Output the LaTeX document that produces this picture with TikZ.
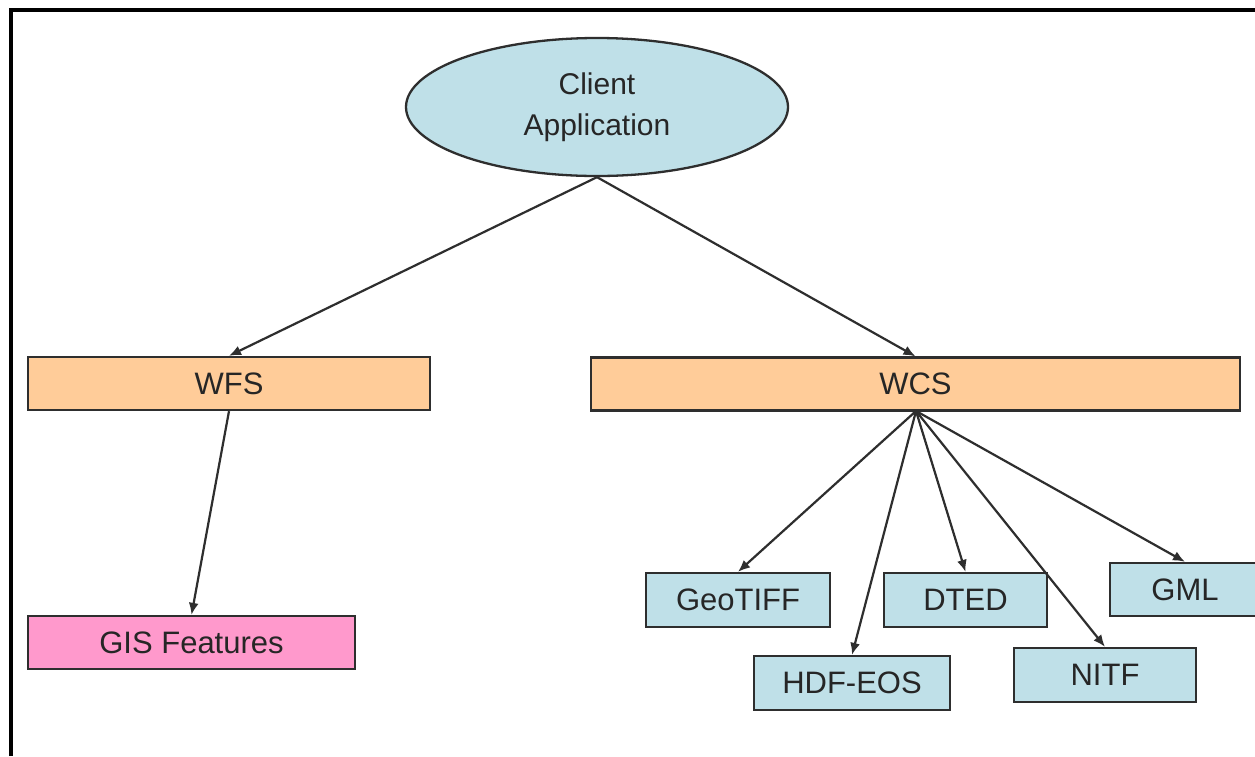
\documentclass[tikz,border=0pt]{standalone}
\usepackage{fontspec}
\setmainfont{Liberation Sans}
\usetikzlibrary{shapes.geometric,arrows.meta}
\definecolor{paleblue}{HTML}{BFE0E8}
\definecolor{peach}{HTML}{FFCC99}
\definecolor{pinkish}{HTML}{FF99CC}
\definecolor{inkline}{HTML}{2E2E2E}
\tikzset{
  blk/.style={draw=inkline, line width=2.3pt, inner sep=0pt, font=\fontsize{31}{36}\selectfont, text=black!85},
  service/.style={blk, fill=peach, minimum height=53pt},
  fmt/.style={blk, fill=paleblue, minimum height=54pt},
  conn/.style={draw=inkline, line width=2.2pt, -{Latex[length=12pt,width=10pt]}}
}
\begin{document}
\begin{tikzpicture}[x=1pt,y=-1pt]
  \useasboundingbox (0,0) rectangle (1255,756);
  \clip (0,0) rectangle (1255,756);
  \fill[white] (0,0) rectangle (1255,756);
  % outer frame (top and left edges)
  \draw[line width=4pt, black] (11,756) -- (11,9.5) -- (1260,9.5);

  % root
  \node[ellipse, draw=inkline, line width=2.3pt, fill=paleblue, minimum width=382pt, minimum height=138pt,
        align=center, inner sep=0pt, font=\fontsize{30}{41}\selectfont, text=black!85] (client) at (597,107)
        {Client\\Application};

  % services
  \node[service, minimum width=402pt] (wfs) at (229,383.5) {WFS};
  \node[service, minimum width=649pt] (wcs) at (915.5,384) {WCS};

  % products
  \node[blk, fill=pinkish, minimum width=327pt, minimum height=53pt] (gis) at (191.5,642.5) {GIS Features};
  \node[fmt, minimum width=184pt] (geotiff) at (738,600) {GeoTIFF};
  \node[fmt, minimum width=196pt] (hdf) at (852,683) {HDF-EOS};
  \node[fmt, minimum width=163pt] (dted) at (965.5,600) {DTED};
  \node[fmt, minimum width=182pt] (nitf) at (1105,675) {NITF};
  \node[fmt, minimum width=150pt, minimum height=53pt] (gml) at (1185,589.5) {GML};

  % connectors
  \draw[conn] (client.south) -- (wfs.north);
  \draw[conn] (client.south) -- (wcs.north);
  \draw[conn] (wfs.south) -- (gis.north);
  \coordinate (wcsfoot) at (916,411);
  \draw[conn] (wcsfoot) -- (geotiff.north);
  \draw[conn] (wcsfoot) -- (hdf.north);
  \draw[conn] (wcsfoot) -- (dted.north);
  \draw[conn] (wcsfoot) -- (nitf.north);
  \draw[conn] (wcsfoot) -- (gml.north);
\end{tikzpicture}
\end{document}
